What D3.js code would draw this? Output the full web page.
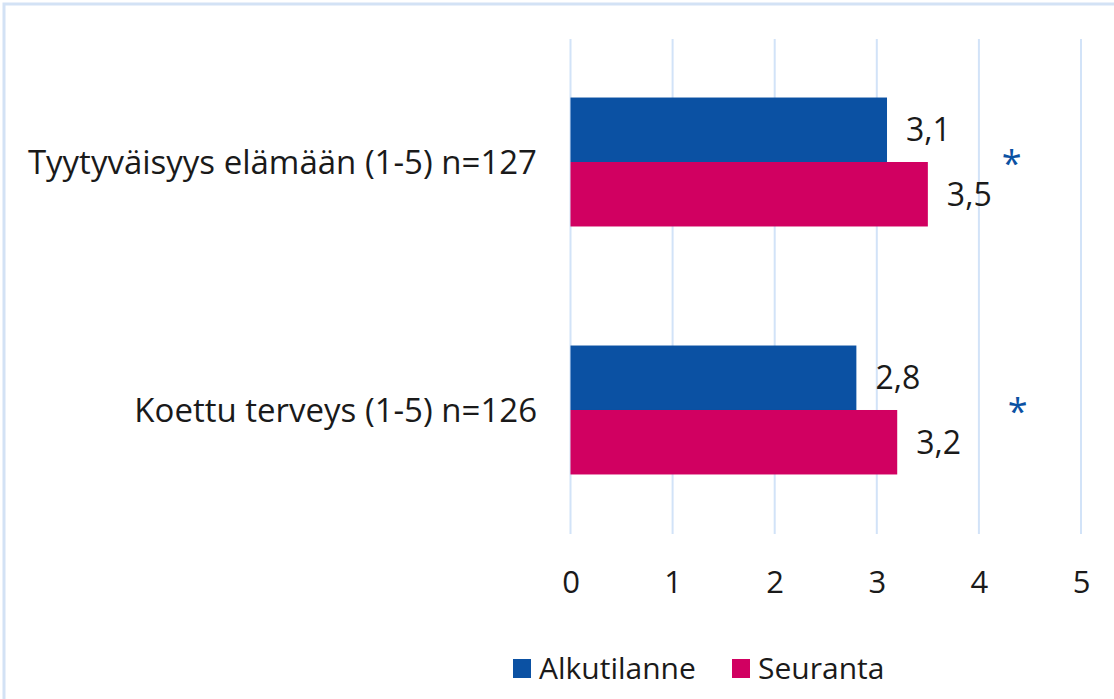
<!DOCTYPE html>
<html>
<head>
<meta charset="utf-8">
<script src="https://cdn.jsdelivr.net/npm/d3@7"></script>
<style>
  body { margin: 0; background: #fff; }
  text { font-family: "Open Sans", Lato, sans-serif; fill: #1a1a1a; }
</style>
</head>
<body>
<div id="chart"></div>
<script>
// data
var categories = ["Tyytyväisyys elämään (1-5) n=127", "Koettu terveys (1-5) n=126"];
var series = ["Alkutilanne", "Seuranta"];
var alkutilanne = [3.1, 2.8];
var seuranta = [3.5, 3.2];
var colors = ["#0b51a3", "#d10061"];
var xTicks = [0, 1, 2, 3, 4, 5];
var signifX = [4.32, 4.38]; // where the * markers sit, in axis units

var W = 1114, H = 699;

var x = d3.scaleLinear().domain([0, 5]).range([570.5, 1081]);

var y = d3.scaleBand()
    .domain(categories)
    .range([39, 533])
    .paddingInner(0.48)
    .paddingOuter(0.236);

var ySub = d3.scaleBand()
    .domain(series)
    .range([0, y.bandwidth()]);

var rows = categories.map(function(c, i) {
    return { cat: c, values: [alkutilanne[i], seuranta[i]], star: signifX[i] };
});

var svg = d3.select("#chart").append("svg")
    .attr("width", W)
    .attr("height", H);

// outer chart border (cropped at right/bottom like the source)
svg.append("rect")
    .attr("x", 4).attr("y", 4)
    .attr("width", W + 10).attr("height", H + 10)
    .attr("fill", "none")
    .attr("stroke", "#d3e2f5")
    .attr("stroke-width", 3);

// gridlines
svg.append("g")
    .selectAll("line")
    .data(xTicks)
    .enter().append("line")
    .attr("x1", function(d) { return x(d); })
    .attr("x2", function(d) { return x(d); })
    .attr("y1", 39)
    .attr("y2", 534)
    .attr("stroke", "#d2e3f8")
    .attr("stroke-width", 2);

// x axis labels
var xAxis = d3.axisBottom(x)
    .tickValues(xTicks)
    .tickFormat(d3.format("d"))
    .tickSize(0)
    .tickPadding(0);
var gx = svg.append("g")
    .attr("transform", "translate(0,582)")
    .call(xAxis);
gx.select(".domain").remove();
gx.selectAll("text")
    .attr("dy", "0.36em")
    .style("font-size", "31px")
    .style("font-family", "'Open Sans', sans-serif")
    .attr("fill", "#1a1a1a");

// category labels
svg.append("g")
    .selectAll("text")
    .data(categories)
    .enter().append("text")
    .attr("x", 537)
    .attr("y", function(d) { return y(d) + y.bandwidth() / 2; })
    .attr("dy", "0.35em")
    .attr("text-anchor", "end")
    .style("font-size", "33px")
    .text(function(d) { return d; });

// bars
var groups = svg.selectAll(".row")
    .data(rows)
    .enter().append("g")
    .attr("class", "row")
    .attr("transform", function(d) { return "translate(0," + y(d.cat) + ")"; });

groups.selectAll("rect")
    .data(function(d) { return d.values; })
    .enter().append("rect")
    .attr("x", x(0))
    .attr("y", function(d, i) { return ySub(series[i]); })
    .attr("width", function(d) { return x(d) - x(0); })
    .attr("height", ySub.bandwidth())
    .attr("fill", function(d, i) { return colors[i]; });

groups.selectAll(".val")
    .data(function(d) { return d.values; })
    .enter().append("text")
    .attr("class", "val")
    .attr("x", function(d) { return x(d) + 19; })
    .attr("y", function(d, i) { return ySub(series[i]) + ySub.bandwidth() / 2; })
    .attr("dy", "0.36em")
    .style("font-size", "32px")
    .text(function(d) { return String(d).replace(".", ","); });

// significance markers
groups.append("text")
    .attr("x", function(d) { return x(d.star); })
    .attr("y", y.bandwidth() / 2 + 14)
    .attr("text-anchor", "middle")
    .style("font-size", "36px")
    .style("fill", "#0b51a3")
    .text("*");

// legend
var legend = svg.append("g").attr("transform", "translate(0,668)");
var legendX = [513, 732];
var li = legend.selectAll("g")
    .data(series)
    .enter().append("g")
    .attr("transform", function(d, i) { return "translate(" + legendX[i] + ",0)"; });
li.append("rect")
    .attr("x", 0).attr("y", -9)
    .attr("width", 18).attr("height", 19)
    .attr("fill", function(d, i) { return colors[i]; });
li.append("text")
    .attr("x", 26)
    .attr("y", 0)
    .attr("dy", "0.35em")
    .style("font-size", "30px")
    .text(function(d) { return d; });
</script>
</body>
</html>
